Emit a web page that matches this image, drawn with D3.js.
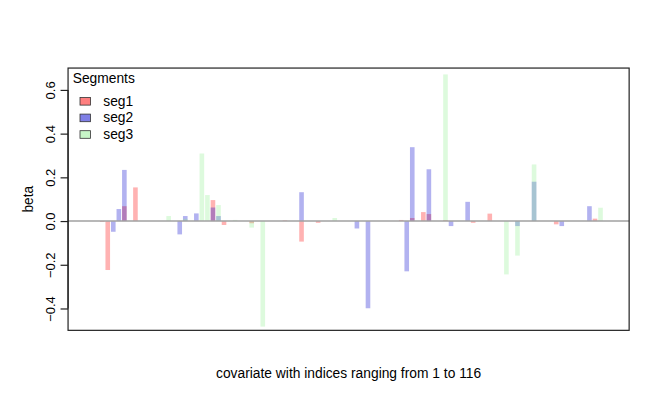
<!DOCTYPE html>
<html>
<head>
<meta charset="utf-8">
<script src="https://cdn.jsdelivr.net/npm/d3@7"></script>
<style>
  html, body { margin: 0; padding: 0; background: #ffffff; }
  svg { display: block; font-family: "Liberation Sans", Arial, Helvetica, sans-serif; }
</style>
</head>
<body>
<svg id="chart" width="664" height="415"></svg>
<script>
// ---- data (one slot per bar position, 94 positions) ----
const positions = d3.range(1, 95);
const seriesNames = ["seg1", "seg2", "seg3"];
const seriesColors = ["#ff0000", "#0000cd", "#90ee90"];

const seg1 = [
  0, 0, -0.004, -0.224, 0, 0, 0.068, 0, 0.154, 0,
  0, 0, 0, 0, 0, 0, 0, 0, 0, 0,
  0, 0, 0.096, 0, -0.018, 0, 0, 0, 0, -0.010,
  0, 0, 0, 0, 0, 0.003, 0, 0, -0.094, 0,
  0, -0.008, 0, 0, 0, 0, 0, 0, 0, 0,
  0, 0, 0, 0, 0, 0, 0.005, 0, 0.014, 0,
  0.041, 0.032, 0, 0, 0.004, 0, 0, 0, 0, -0.008,
  0, 0, 0.034, 0, 0, 0, 0, 0, 0, 0,
  0, 0, 0, 0, -0.015, 0, 0, 0, 0, 0,
  0, 0.011, 0, 0
];
const seg2 = [
  0, 0, 0, 0, -0.049, 0.055, 0.234, 0, 0, 0,
  0, 0, 0, 0, 0, 0, -0.061, 0.023, 0, 0.035,
  0, 0, 0.062, 0.023, 0, 0, 0, 0, 0, 0,
  0, 0, 0, 0, 0, 0, 0, 0, 0.132, 0,
  0, 0, 0, 0, 0, 0, 0, 0, -0.034, 0,
  -0.399, 0, 0, 0, 0, 0, 0, -0.230, 0.338, 0,
  0, 0.237, 0, 0, 0, -0.023, 0, 0, 0.088, 0,
  0, 0, 0, 0, 0, 0, 0, -0.023, 0, 0,
  0.180, 0, 0, 0, 0, -0.023, 0, 0, 0, 0,
  0.068, 0, 0, 0
];
const seg3 = [
  0, 0, 0, 0, 0, 0, 0, 0, 0, 0,
  0, 0, 0, 0, 0.023, 0, 0, 0.010, 0, 0,
  0.309, 0.119, 0, 0.073, 0, 0, 0.005, 0, 0, -0.030,
  0, -0.483, 0, 0, 0, 0, 0, 0, 0, 0,
  0, 0, 0, 0, 0.014, 0, 0, 0, 0, 0,
  0, 0, 0, 0, 0, 0, 0, 0, 0, 0,
  0, 0, 0, 0, 0.671, 0, 0, 0, 0, 0,
  0, 0, 0, 0, 0, -0.244, 0, -0.158, 0, 0,
  0.259, 0, 0, 0, 0, 0, 0, 0, 0, 0,
  0, 0, 0.061, 0
];
const yTicks = [-0.4, -0.2, 0.0, 0.2, 0.4, 0.6];
const xLabel = "covariate with indices ranging from 1 to 116";
const yLabel = "beta";
const legendTitle = "Segments";

// ---- layout ----
const W = 664, H = 415;
const mLeft = 68.06, mRight = 629.14, mTop = 68.06, mBottom = 330.34;

const svg = d3.select("#chart");

const x = d3.scaleBand()
  .domain(positions)
  .range([mLeft, mRight])
  .paddingInner(1 / 6)
  .paddingOuter(3.7533);

const y = d3.scaleLinear().domain([-0.5, 0.7]).range([mBottom, mTop]);

// bars: seg1 then seg2 then seg3 (overlapping, translucent)
const allSeries = [seg1, seg2, seg3];
allSeries.forEach((vals, si) => {
  svg.append("g")
    .selectAll("rect")
    .data(vals.map((v, i) => ({ pos: positions[i], v })).filter(d => d.v !== 0))
    .join("rect")
    .attr("x", d => x(d.pos))
    .attr("width", x.bandwidth())
    .attr("y", d => y(Math.max(0, d.v)))
    .attr("height", d => Math.abs(y(d.v) - y(0)))
    .attr("fill", seriesColors[si])
    .attr("fill-opacity", 0.3);
});

// zero line
svg.append("line")
  .attr("x1", mLeft).attr("x2", mRight)
  .attr("y1", y(0)).attr("y2", y(0))
  .attr("stroke", "#a0a0a0")
  .attr("stroke-width", 1.5);

// plot box
svg.append("rect")
  .attr("x", mLeft).attr("y", mTop)
  .attr("width", mRight - mLeft).attr("height", mBottom - mTop)
  .attr("fill", "none")
  .attr("stroke", "#222")
  .attr("stroke-width", 1.2);

// y axis
const yAxis = d3.axisLeft(y)
  .tickValues(yTicks)
  .tickSize(7.5)
  .tickFormat(d3.format(".1f"));

const ag = svg.append("g")
  .attr("transform", `translate(${mLeft},0)`)
  .call(yAxis);
ag.select(".domain").remove();
ag.append("line")
  .attr("x1", 0).attr("x2", 0)
  .attr("y1", y(yTicks[0])).attr("y2", y(yTicks[yTicks.length - 1]))
  .attr("stroke", "#222").attr("stroke-width", 1.2);
ag.selectAll(".tick line").attr("stroke", "#222").attr("stroke-width", 1.2);
ag.selectAll(".tick text")
  .attr("x", null).attr("dy", null)
  .attr("transform", "translate(-13,0) rotate(-90)")
  .attr("text-anchor", "middle")
  .attr("fill", "#000")
  .style("font-size", "13px")
  .style("font-family", "'Liberation Sans', Arial, sans-serif");

// axis titles
svg.append("text")
  .attr("x", (mLeft + mRight) / 2).attr("y", 377.5)
  .attr("text-anchor", "middle")
  .style("font-size", "13.8px")
  .text(xLabel);

svg.append("text")
  .attr("transform", `translate(33.3,${(mTop + mBottom) / 2}) rotate(-90)`)
  .attr("text-anchor", "middle")
  .style("font-size", "13.8px")
  .text(yLabel);

// legend
const lg = svg.append("g");
lg.append("text")
  .attr("x", 72.7).attr("y", 83.3)
  .style("font-size", "13.8px")
  .text(legendTitle);
seriesNames.forEach((name, i) => {
  const base = 105.7 + i * 16.6;
  lg.append("rect")
    .attr("x", 80).attr("y", base - 8.2)
    .attr("width", 10.5).attr("height", 7.6)
    .attr("fill", seriesColors[i]).attr("fill-opacity", 0.5)
    .attr("stroke", "#333").attr("stroke-width", 0.8);
  lg.append("text")
    .attr("x", 103.3).attr("y", base)
    .style("font-size", "13.8px")
    .text(name);
});
</script>
</body>
</html>
